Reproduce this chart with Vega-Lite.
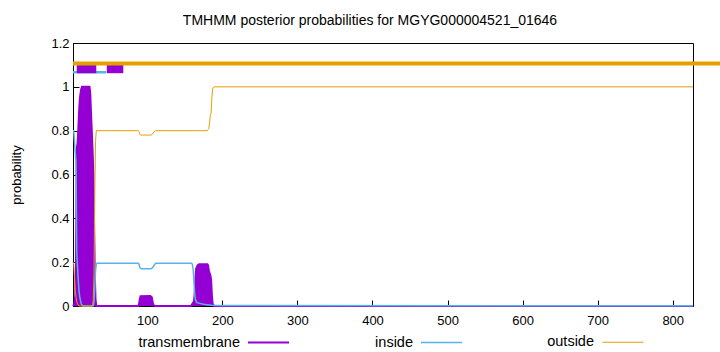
{
  "$schema": "https://vega.github.io/schema/vega-lite/v6.json",
  "autosize": "none",
  "padding": {"left": 73, "top": 43, "right": 27, "bottom": 46},
  "width": 620,
  "height": 263,
  "background": "white",
  "config": {
    "font": "Liberation Sans",
    "view": {"stroke": "black", "strokeWidth": 1},
    "axis": {"labelFont": "Liberation Sans", "labelFontSize": 13, "labelColor": "black", "titleFont": "Liberation Sans", "titleFontSize": 13, "titleFontWeight": "normal", "titleColor": "black", "grid": false, "domainColor": "black", "tickColor": "black", "zindex": 1},
    "legend": {"labelFont": "Liberation Sans", "labelFontSize": 14.5, "labelColor": "black"}
  },
  "title": {"text": "TMHMM posterior probabilities for MGYG000004521_01646", "font": "Liberation Sans", "fontSize": 14, "fontWeight": "normal", "color": "black", "anchor": "middle", "dx": -13, "offset": 9},
  "datasets": {
    "curves": [
      {"x": 1, "s": "transmembrane", "p": 0},
      {"x": 3, "s": "transmembrane", "p": 0.01},
      {"x": 4, "s": "transmembrane", "p": 0.05},
      {"x": 5, "s": "transmembrane", "p": 0.2},
      {"x": 6, "s": "transmembrane", "p": 0.72},
      {"x": 7, "s": "transmembrane", "p": 0.74},
      {"x": 8, "s": "transmembrane", "p": 0.8},
      {"x": 9, "s": "transmembrane", "p": 0.88},
      {"x": 10, "s": "transmembrane", "p": 0.94},
      {"x": 11, "s": "transmembrane", "p": 0.97},
      {"x": 12, "s": "transmembrane", "p": 0.99},
      {"x": 13, "s": "transmembrane", "p": 1.0},
      {"x": 23, "s": "transmembrane", "p": 1.0},
      {"x": 24, "s": "transmembrane", "p": 0.97},
      {"x": 25, "s": "transmembrane", "p": 0.88},
      {"x": 26, "s": "transmembrane", "p": 0.8},
      {"x": 27, "s": "transmembrane", "p": 0.72},
      {"x": 28, "s": "transmembrane", "p": 0.62},
      {"x": 29, "s": "transmembrane", "p": 0.4},
      {"x": 30, "s": "transmembrane", "p": 0.15},
      {"x": 31, "s": "transmembrane", "p": 0.03},
      {"x": 32, "s": "transmembrane", "p": 0},
      {"x": 88, "s": "transmembrane", "p": 0},
      {"x": 89, "s": "transmembrane", "p": 0.01},
      {"x": 90, "s": "transmembrane", "p": 0.03},
      {"x": 91, "s": "transmembrane", "p": 0.045},
      {"x": 104, "s": "transmembrane", "p": 0.046},
      {"x": 106, "s": "transmembrane", "p": 0.04},
      {"x": 107, "s": "transmembrane", "p": 0.02},
      {"x": 108, "s": "transmembrane", "p": 0.005},
      {"x": 110, "s": "transmembrane", "p": 0},
      {"x": 158, "s": "transmembrane", "p": 0},
      {"x": 160, "s": "transmembrane", "p": 0.01},
      {"x": 162, "s": "transmembrane", "p": 0.02},
      {"x": 163, "s": "transmembrane", "p": 0.05},
      {"x": 164, "s": "transmembrane", "p": 0.12},
      {"x": 165, "s": "transmembrane", "p": 0.17},
      {"x": 167, "s": "transmembrane", "p": 0.185},
      {"x": 169, "s": "transmembrane", "p": 0.19},
      {"x": 180, "s": "transmembrane", "p": 0.19},
      {"x": 181, "s": "transmembrane", "p": 0.185},
      {"x": 182, "s": "transmembrane", "p": 0.16},
      {"x": 183, "s": "transmembrane", "p": 0.15},
      {"x": 184, "s": "transmembrane", "p": 0.14},
      {"x": 185, "s": "transmembrane", "p": 0.12},
      {"x": 186, "s": "transmembrane", "p": 0.05},
      {"x": 187, "s": "transmembrane", "p": 0.01},
      {"x": 189, "s": "transmembrane", "p": 0},
      {"x": 827, "s": "transmembrane", "p": 0},
      {"x": 1, "s": "inside", "p": 0.8},
      {"x": 2, "s": "inside", "p": 0.8},
      {"x": 3, "s": "inside", "p": 0.75},
      {"x": 4, "s": "inside", "p": 0.7},
      {"x": 5, "s": "inside", "p": 0.66},
      {"x": 6, "s": "inside", "p": 0.25},
      {"x": 7, "s": "inside", "p": 0.18},
      {"x": 8, "s": "inside", "p": 0.12},
      {"x": 9, "s": "inside", "p": 0.07},
      {"x": 10, "s": "inside", "p": 0.04},
      {"x": 12, "s": "inside", "p": 0.01},
      {"x": 14, "s": "inside", "p": 0},
      {"x": 28, "s": "inside", "p": 0},
      {"x": 29, "s": "inside", "p": 0.02},
      {"x": 30, "s": "inside", "p": 0.08},
      {"x": 31, "s": "inside", "p": 0.16},
      {"x": 32, "s": "inside", "p": 0.19},
      {"x": 33, "s": "inside", "p": 0.195},
      {"x": 88, "s": "inside", "p": 0.195},
      {"x": 89, "s": "inside", "p": 0.19},
      {"x": 90, "s": "inside", "p": 0.175},
      {"x": 92, "s": "inside", "p": 0.17},
      {"x": 105, "s": "inside", "p": 0.17},
      {"x": 107, "s": "inside", "p": 0.175},
      {"x": 109, "s": "inside", "p": 0.185},
      {"x": 111, "s": "inside", "p": 0.195},
      {"x": 159, "s": "inside", "p": 0.195},
      {"x": 160, "s": "inside", "p": 0.19},
      {"x": 161, "s": "inside", "p": 0.17},
      {"x": 162, "s": "inside", "p": 0.12},
      {"x": 163, "s": "inside", "p": 0.06},
      {"x": 164, "s": "inside", "p": 0.03},
      {"x": 166, "s": "inside", "p": 0.015},
      {"x": 170, "s": "inside", "p": 0.012},
      {"x": 175, "s": "inside", "p": 0.008},
      {"x": 185, "s": "inside", "p": 0.003},
      {"x": 200, "s": "inside", "p": 0.002},
      {"x": 827, "s": "inside", "p": 0.001},
      {"x": 1, "s": "outside", "p": 0.2},
      {"x": 2, "s": "outside", "p": 0.19},
      {"x": 3, "s": "outside", "p": 0.13},
      {"x": 4, "s": "outside", "p": 0.07},
      {"x": 5, "s": "outside", "p": 0.04},
      {"x": 6, "s": "outside", "p": 0.02},
      {"x": 7, "s": "outside", "p": 0.01},
      {"x": 8, "s": "outside", "p": 0.003},
      {"x": 9, "s": "outside", "p": 0},
      {"x": 27, "s": "outside", "p": 0},
      {"x": 28, "s": "outside", "p": 0.03},
      {"x": 29, "s": "outside", "p": 0.15},
      {"x": 30, "s": "outside", "p": 0.5},
      {"x": 31, "s": "outside", "p": 0.75},
      {"x": 32, "s": "outside", "p": 0.8},
      {"x": 88, "s": "outside", "p": 0.8},
      {"x": 89, "s": "outside", "p": 0.795},
      {"x": 90, "s": "outside", "p": 0.785},
      {"x": 91, "s": "outside", "p": 0.78},
      {"x": 105, "s": "outside", "p": 0.78},
      {"x": 107, "s": "outside", "p": 0.785},
      {"x": 109, "s": "outside", "p": 0.795},
      {"x": 111, "s": "outside", "p": 0.8},
      {"x": 180, "s": "outside", "p": 0.8},
      {"x": 181, "s": "outside", "p": 0.805},
      {"x": 182, "s": "outside", "p": 0.81},
      {"x": 183, "s": "outside", "p": 0.84},
      {"x": 184, "s": "outside", "p": 0.87},
      {"x": 185, "s": "outside", "p": 0.88},
      {"x": 186, "s": "outside", "p": 0.95},
      {"x": 187, "s": "outside", "p": 0.99},
      {"x": 188, "s": "outside", "p": 0.998},
      {"x": 190, "s": "outside", "p": 1.0},
      {"x": 827, "s": "outside", "p": 1.0}
    ],
    "bands": [
      {"s": "inside", "start": 1, "end": 45, "level": 1.067},
      {"s": "transmembrane", "start": 6, "end": 32, "level": 1.085},
      {"s": "transmembrane", "start": 46, "end": 68, "level": 1.085},
      {"s": "outside", "start": 1, "end": 870, "level": 1.106}
    ]
  },
  "encoding": {
    "x": {"field": "x", "type": "quantitative", "scale": {"domain": [1, 827], "nice": false, "zero": false},
      "axis": {"title": null, "values": [100, 200, 300, 400, 500, 600, 700, 800], "format": "d", "tickSize": -6, "labelPadding": 14, "labelFlush": false}},
    "y": {"field": "p", "type": "quantitative", "scale": {"domain": [0, 1.2], "nice": false},
      "axis": {"title": "probability", "values": [0, 0.2, 0.4, 0.6, 0.8, 1, 1.2], "format": "~g", "tickSize": -6, "labelPadding": 10, "titlePadding": 27}}
  },
  "layer": [
    {
      "data": {"name": "curves"},
      "transform": [{"filter": "datum.s === 'transmembrane'"}],
      "mark": {"type": "area", "color": "#9400d3", "opacity": 1, "interpolate": "linear"},
      "encoding": {}
    },
    {
      "data": {"name": "curves"},
      "mark": {"type": "line", "interpolate": "linear"},
      "encoding": {
        "color": {"field": "s", "type": "nominal",
          "scale": {"domain": ["transmembrane", "inside", "outside"], "range": ["#9400d3", "#56b4e9", "#e69f00"]},
          "sort": ["transmembrane", "inside", "outside"],
          "legend": {"title": null, "orient": "none", "legendX": 174, "legendY": 278, "direction": "horizontal", "symbolType": "stroke", "symbolSize": 1681, "symbolStrokeWidth": 1, "labelAlign": "right", "labelOffset": -50, "columnPadding": 82}},
        "strokeWidth": {"field": "s", "type": "nominal", "scale": {"domain": ["transmembrane", "inside", "outside"], "range": [2, 1, 1]}, "legend": null}
      }
    },
    {
      "data": {"name": "bands"},
      "transform": [{"filter": "datum.s === 'inside'"}],
      "mark": {"type": "rule", "color": "#56b4e9", "strokeWidth": 2.5},
      "encoding": {"x": {"field": "start", "type": "quantitative"}, "x2": {"field": "end"}, "y": {"field": "level", "type": "quantitative"}}
    },
    {
      "data": {"name": "bands"},
      "transform": [{"filter": "datum.s === 'transmembrane'"}],
      "mark": {"type": "rule", "color": "#9400d3", "strokeWidth": 10},
      "encoding": {"x": {"field": "start", "type": "quantitative"}, "x2": {"field": "end"}, "y": {"field": "level", "type": "quantitative"}}
    },
    {
      "data": {"name": "bands"},
      "transform": [{"filter": "datum.s === 'outside'"}],
      "mark": {"type": "rule", "color": "#e69f00", "strokeWidth": 4},
      "encoding": {"x": {"field": "start", "type": "quantitative"}, "x2": {"field": "end"}, "y": {"field": "level", "type": "quantitative"}}
    }
  ]
}
